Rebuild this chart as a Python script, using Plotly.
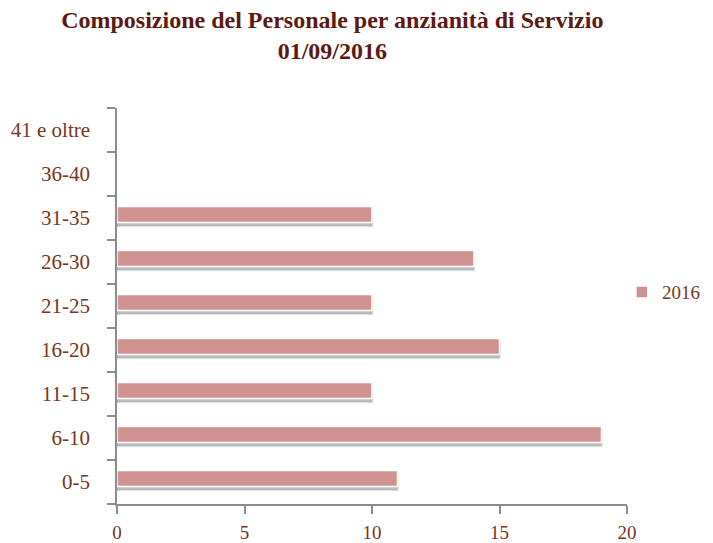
import plotly.graph_objects as go

categories = ["0-5", "6-10", "11-15", "16-20", "21-25", "26-30", "31-35", "36-40", "41 e oltre"]
values_2016 = [11, 19, 10, 15, 10, 14, 10, 0, 0]
series_name = "2016"
x_ticks = [0, 5, 10, 15, 20]

font_family = "Liberation Serif"
label_color = "#7a3520"
title_color = "#5c1a12"
bar_color = "#d09291"

shadow_line = [2.5 if v > 0 else 0 for v in values_2016]
main_line = [1.5 if v > 0 else 0 for v in values_2016]

fig = go.Figure()

# soft shadow underneath the bars (base axes, drawn first)
fig.add_trace(go.Bar(
    y=categories, x=values_2016, orientation="h",
    marker=dict(color="rgba(140,140,140,0.55)",
                line=dict(color="rgba(160,160,160,0.35)", width=shadow_line)),
    width=0.36, showlegend=False, hoverinfo="skip",
))

# main bars on overlay axes (drawn on top), slightly raised above the shadow
fig.add_trace(go.Bar(
    y=categories, x=values_2016, orientation="h", name=series_name,
    marker=dict(color=bar_color, line=dict(color="white", width=main_line)),
    width=0.36, xaxis="x2", yaxis="y2",
))

fig.update_layout(
    width=705, height=535,
    margin=dict(l=109, r=86, t=100, b=39, autoexpand=False),
    paper_bgcolor="white", plot_bgcolor="white",
    title=dict(
        text="<b>Composizione del Personale per anzianità di Servizio<br>01/09/2016</b>",
        x=0.46, xanchor="center", y=0.963, yanchor="top",
        font=dict(family=font_family, size=24, color=title_color),
    ),
    xaxis=dict(
        range=[0, 20], tickvals=x_ticks, showgrid=False, zeroline=False,
        showline=True, linecolor="#8c8c8c", linewidth=1.5,
        ticks="outside", ticklen=8, tickcolor="#8c8c8c", tickwidth=1.5,
        tickfont=dict(family=font_family, size=19, color=label_color),
        ticklabelstandoff=2, fixedrange=True,
    ),
    yaxis=dict(
        type="category", categoryorder="array", categoryarray=categories,
        range=[-0.5, 8.5], showgrid=False, zeroline=False,
        showline=True, linecolor="#8c8c8c", linewidth=1.5,
        ticks="outside", ticklen=8, tickcolor="#8c8c8c", tickwidth=1.5,
        tickson="boundaries",
        tickfont=dict(family=font_family, size=21, color=label_color),
        ticklabelstandoff=21,
    ),
    xaxis2=dict(range=[0, 20], overlaying="x", visible=False),
    yaxis2=dict(type="category", categoryorder="array", categoryarray=categories,
                range=[-0.58, 8.42], overlaying="y", visible=False),
    legend=dict(x=0.99, y=0.535, xanchor="left", yanchor="middle",
                font=dict(family=font_family, size=19, color=label_color),
                itemwidth=30, tracegroupgap=0),
    showlegend=True,
)

fig.write_html("out.html")
